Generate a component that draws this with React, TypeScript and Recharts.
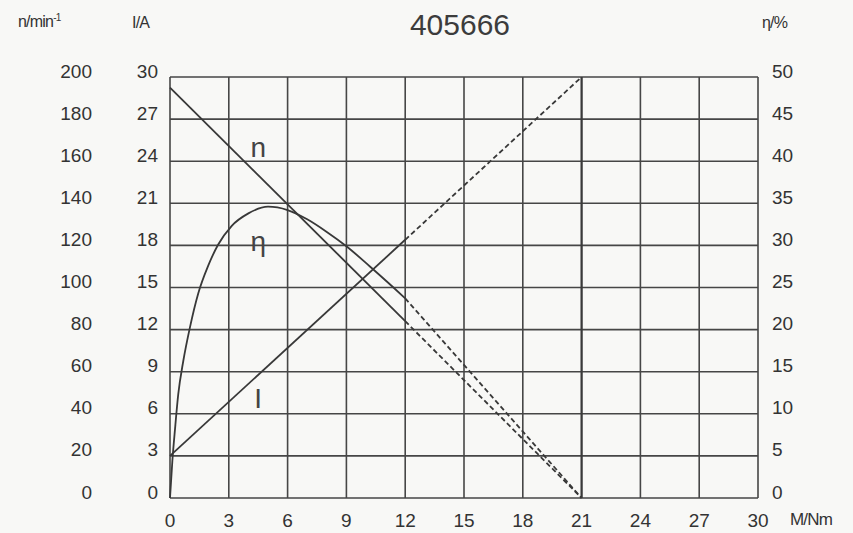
import React from "react";
import {
  CartesianGrid,
  ComposedChart,
  Line,
  ReferenceDot,
  ReferenceLine,
  XAxis,
  YAxis,
} from "recharts";

// torque axis (M/Nm) and the three value axes
const torqueTicks = [0, 3, 6, 9, 12, 15, 18, 21, 24, 27, 30];
const currentTicks = [0, 3, 6, 9, 12, 15, 18, 21, 24, 27, 30];
const speedTicks = [0, 20, 40, 60, 80, 100, 120, 140, 160, 180, 200];
const effTicks = [0, 5, 10, 15, 20, 25, 30, 35, 40, 45, 50];

// stall torque, drawn a bit heavier on the grid
const stallTorque = 21;

// speed n (min^-1): measured up to 12 Nm, extrapolated to stall
const speedSolid = [
  { m: 0, n: 195 },
  { m: 12, n: 84 },
];
const speedDashed = [
  { m: 12, n: 84 },
  { m: 21, n: 0 },
];

// current I (A)
const currentSolid = [
  { m: 0, i: 3 },
  { m: 12, i: 18.4 },
];
const currentDashed = [
  { m: 12, i: 18.4 },
  { m: 21, i: 30 },
];

// efficiency η (%)
const effTorque = [0, 0.12, 0.26, 0.42, 0.68, 1.02, 1.44, 1.95, 2.46, 3.14, 4.0, 5.0, 6.0, 7.0, 8.0, 9.0, 10.2, 11.4, 12];
const effValues = [0, 4.4, 8.3, 12.3, 16.3, 20.3, 24.3, 27.6, 30.1, 32.3, 33.8, 34.6, 34.2, 33.1, 31.6, 29.9, 27.5, 25.0, 23.7];
const effSolid = effTorque.map((m, k) => ({ m, eta: effValues[k] }));
const effDashed = [
  { m: 12, eta: 23.7 },
  { m: 21, eta: 0 },
];

// curve name labels, placed in current-axis units
const curveLabels = [
  { text: "n", m: 4.5, i: 25 },
  { text: "η", m: 4.5, i: 18.3 },
  { text: "I", m: 4.5, i: 7.1 },
];

const FONT = '"Liberation Sans", Arial, sans-serif';
const INK = "#333";
const LINE = "#383838";

const makeTick =
  (anchor: "start" | "end" | "middle", dy: number) => (props: any) => {
    const { x, y, payload } = props;
    return (
      <text
        x={x}
        y={y + dy}
        textAnchor={anchor}
        dominantBaseline="central"
        fontSize={19}
        fontFamily={FONT}
        fill={INK}
      >
        {payload.value}
      </text>
    );
  };

const unitStyle: React.CSSProperties = {
  position: "absolute",
  fontFamily: FONT,
  fontSize: 16,
  color: INK,
  letterSpacing: -0.8,
  whiteSpace: "nowrap",
};

export default function App() {
  return (
    <div
      style={{
        position: "absolute",
        top: 0,
        left: 0,
        width: 853,
        height: 533,
        background: "#f8f8f6",
      }}
    >
      <div
        style={{
          position: "absolute",
          left: 0,
          width: 920,
          top: 8,
          textAlign: "center",
          fontFamily: FONT,
          fontSize: 30,
          color: "#3c3c3c",
        }}
      >
        405666
      </div>
      <div style={{ ...unitStyle, left: 18, top: 12 }}>
        n/min<sup style={{ fontSize: 10 }}>-1</sup>
      </div>
      <div style={{ ...unitStyle, left: 132, top: 14 }}>I/A</div>
      <div style={{ ...unitStyle, left: 762, top: 14 }}>η/%</div>
      <div style={{ ...unitStyle, left: 790, top: 510, fontSize: 17 }}>M/Nm</div>

      <ComposedChart
        width={853}
        height={533}
        margin={{ top: 77, right: 35, bottom: 5, left: 50 }}
      >
        <CartesianGrid
          yAxisId="i"
          stroke="#464646"
          strokeWidth={1.6}
          fill="none"
        />
        <XAxis
          dataKey="m"
          type="number"
          domain={[0, 30]}
          ticks={torqueTicks}
          interval={0}
          axisLine={false}
          tickLine={false}
          tickSize={0}
          tickMargin={0}
          height={30}
          tick={makeTick("middle", 22)}
        />
        <YAxis
          yAxisId="i"
          orientation="left"
          type="number"
          domain={[0, 30]}
          ticks={currentTicks}
          interval={0}
          width={60}
          axisLine={false}
          tickLine={false}
          tickSize={0}
          tickMargin={12}
          tick={makeTick("end", -6)}
        />
        <YAxis
          yAxisId="n"
          orientation="left"
          type="number"
          domain={[0, 200]}
          ticks={speedTicks}
          interval={0}
          width={60}
          axisLine={false}
          tickLine={false}
          tickSize={0}
          tickMargin={18}
          tick={makeTick("end", -6)}
        />
        <YAxis
          yAxisId="eta"
          orientation="right"
          type="number"
          domain={[0, 50]}
          ticks={effTicks}
          interval={0}
          width={60}
          axisLine={false}
          tickLine={false}
          tickSize={0}
          tickMargin={14}
          tick={makeTick("start", -6)}
        />
        <ReferenceLine yAxisId="i" x={stallTorque} stroke="#3a3a3a" strokeWidth={2} />

        <Line yAxisId="n" data={speedSolid} dataKey="n" type="linear" stroke={LINE} strokeWidth={1.8} dot={false} activeDot={false} isAnimationActive={false} />
        <Line yAxisId="n" data={speedDashed} dataKey="n" type="linear" stroke={LINE} strokeWidth={1.8} strokeDasharray="5 3" dot={false} activeDot={false} isAnimationActive={false} />
        <Line yAxisId="i" data={currentSolid} dataKey="i" type="linear" stroke={LINE} strokeWidth={1.8} dot={false} activeDot={false} isAnimationActive={false} />
        <Line yAxisId="i" data={currentDashed} dataKey="i" type="linear" stroke={LINE} strokeWidth={1.8} strokeDasharray="5 3" dot={false} activeDot={false} isAnimationActive={false} />
        <Line yAxisId="eta" data={effSolid} dataKey="eta" type="monotone" stroke={LINE} strokeWidth={1.8} dot={false} activeDot={false} isAnimationActive={false} />
        <Line yAxisId="eta" data={effDashed} dataKey="eta" type="linear" stroke={LINE} strokeWidth={1.8} strokeDasharray="5 3" dot={false} activeDot={false} isAnimationActive={false} />

        {curveLabels.map((c) => (
          <ReferenceDot
            key={c.text}
            yAxisId="i"
            x={c.m}
            y={c.i}
            r={0}
            fill="none"
            stroke="none"
            label={{
              value: c.text,
              position: "center",
              fontSize: 28,
              fontFamily: FONT,
              fill: "#444",
            }}
          />
        ))}
      </ComposedChart>
    </div>
  );
}
